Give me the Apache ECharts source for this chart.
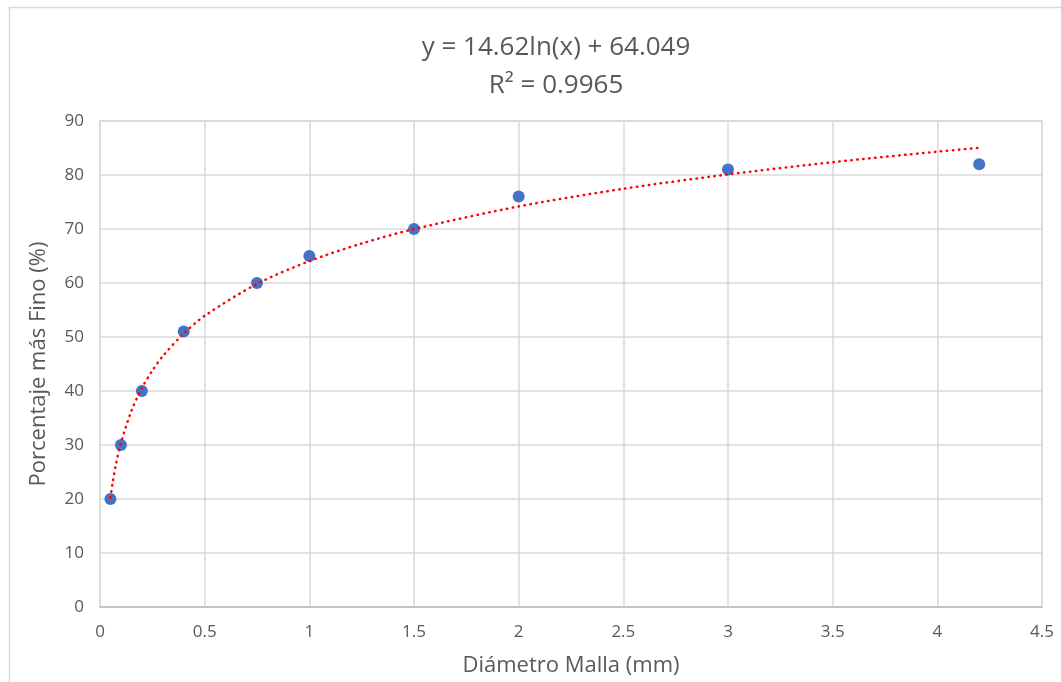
<!DOCTYPE html>
<html><head><meta charset="utf-8">
<script src="https://cdn.jsdelivr.net/npm/echarts@6/dist/echarts.min.js"></script>
<style>html,body{margin:0;padding:0;background:#fff}#c{width:1061px;height:682px}</style>
</head><body><div id="c"></div>
<script>
var diametro = [0.05, 0.1, 0.2, 0.4, 0.75, 1, 1.5, 2, 3, 4.2];
var porcentaje = [20, 30, 40, 51, 60, 65, 70, 76, 81, 82];
// trend line points (log trend line)
var trendX = [0.05, 0.06, 0.075, 0.1, 0.15, 0.2, 0.25, 0.3, 0.4, 0.5, 0.75, 1, 1.25, 1.5, 2, 2.5, 3, 3.5, 4, 4.2];
var trendY = [20.25, 22.92, 26.18, 30.39, 36.31, 40.52, 43.78, 46.45, 50.65, 53.92, 59.84, 64.05, 67.31, 69.98, 74.18, 77.45, 80.11, 82.37, 84.32, 85.03];
var titleLines = ['y = 14.62ln(x) + 64.049', 'R² = 0.9965'];
var xName = 'Diámetro Malla (mm)';
var yName = 'Porcentaje más Fino (%)';

var chart = echarts.init(document.getElementById('c'));
var font = '"Open Sans", Calibri, "Liberation Sans", sans-serif';
chart.setOption({
  animation: false,
  textStyle: {fontFamily: font},
  graphic: [
    {type: 'rect', shape: {x: 9.5, y: 7.5, width: 1100, height: 800}, style: {fill: null, stroke: '#d9d9d9', lineWidth: 1.5}, silent: true},
    {type: 'text', x: 556, y: 48, style: {text: titleLines[0], font: '26px ' + font, fill: '#595959', textAlign: 'center', textVerticalAlign: 'middle'}},
    {type: 'text', x: 556, y: 86, style: {text: titleLines[1], font: '26px ' + font, fill: '#595959', textAlign: 'center', textVerticalAlign: 'middle'}}
  ],
  grid: {left: 100, right: 19, top: 121, bottom: 71, show: true, borderColor: '#d9d9d9', borderWidth: 1.5},
  xAxis: {
    type: 'value', min: 0, max: 4.5, interval: 0.5,
    name: xName, nameLocation: 'middle', nameGap: 48,
    nameTextStyle: {fontSize: 22, color: '#595959', fontFamily: font},
    axisLine: {show: true, lineStyle: {color: '#bfbfbf', width: 1.5}},
    axisTick: {show: false},
    axisLabel: {fontSize: 17, color: '#595959', margin: 17, fontFamily: font},
    splitLine: {show: true, lineStyle: {color: '#d9d9d9', width: 1.5}}
  },
  yAxis: {
    type: 'value', min: 0, max: 90, interval: 10,
    name: yName, nameLocation: 'middle', nameGap: 50, nameRotate: 90,
    nameTextStyle: {fontSize: 22, color: '#595959', fontFamily: font},
    axisLine: {show: false},
    axisTick: {show: false},
    axisLabel: {fontSize: 17, color: '#595959', margin: 16, fontFamily: font},
    splitLine: {show: true, lineStyle: {color: '#d9d9d9', width: 1.5}}
  },
  series: [
    {
      type: 'scatter', z: 2,
      data: diametro.map(function (x, i) { return [x, porcentaje[i]]; }),
      symbolSize: 12,
      itemStyle: {color: '#4472C4', opacity: 1}
    },
    {
      type: 'line', z: 3, smooth: 0.3, showSymbol: false,
      data: trendX.map(function (x, i) { return [x, trendY[i]]; }),
      lineStyle: {color: '#FF0000', width: 2.5, type: [0.5, 5.5], cap: 'round'}
    }
  ]
});
</script></body></html>
